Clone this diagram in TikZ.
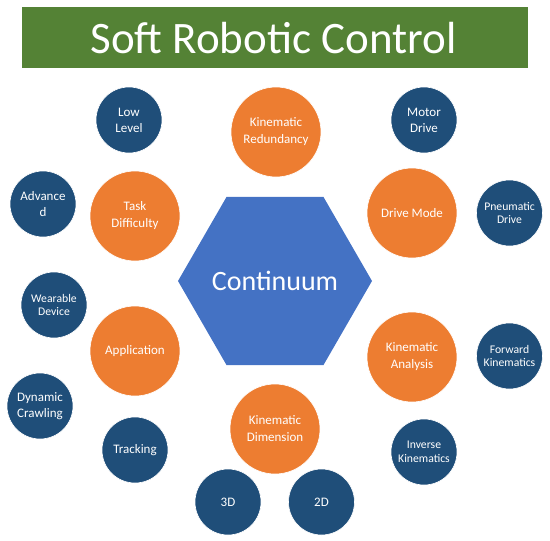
\documentclass[tikz,border=0pt]{standalone}
\usepackage{fontspec}
\setmainfont{Carlito}
\usetikzlibrary{shapes.geometric}
\definecolor{bannergreen}{HTML}{548235}
\definecolor{orangefill}{HTML}{ED7D31}
\definecolor{bluefill}{HTML}{1F4E79}
\definecolor{hexblue}{HTML}{4472C4}
\tikzset{
  mainc/.style={circle, fill=orangefill, draw=white, line width=0.6pt, minimum size=90pt, inner sep=0pt, text=white, align=center, font=\fontsize{13}{17}\selectfont},
  subc/.style={circle, fill=bluefill, draw=white, line width=0.6pt, minimum size=66pt, inner sep=0pt, text=white, align=center, font=\fontsize{13}{16}\selectfont},
  subs/.style={subc, font=\fontsize{11.7}{13.8}\selectfont},
}
\begin{document}
\begin{tikzpicture}[x=1pt,y=-1pt]
\useasboundingbox (0,0) rectangle (550,541);
\node[fill=bannergreen, minimum width=506pt, minimum height=61pt, inner sep=0pt] (title) at (275,37.5) {};
\node[text=white, font=\fontsize{45}{54}\selectfont] (titletext) at (273.5,38) {Soft Robotic Control};
\node[regular polygon, regular polygon sides=6, minimum size=194pt, inner sep=0pt, fill=hexblue] (hex) at (275,281) {};
\node[text=white, font=\fontsize{28}{34}\selectfont] (hextext) at (275,281) {Continuum};
% orange
\node[mainc] (red) at (276,132) {Kinematic\\Redundancy};
\node[mainc] (task) at (135,216) {Task\\Difficulty};
\node[mainc] (drive) at (412,213) {Drive Mode};
\node[mainc] (app) at (135,351) {Application};
\node[mainc] (ana) at (412,357) {Kinematic\\Analysis};
\node[mainc] (dim) at (275,429) {Kinematic\\Dimension};
% blue
\node[subc] (low) at (129,120) {Low\\Level};
\node[subc] (adv) at (43,204) {Advance\\d};
\node[subc] (motor) at (424,120) {Motor\\Drive};
\node[subs] (pneu) at (509.5,213) {Pneumatic\\Drive};
\node[subs] (wear) at (54,305) {Wearable\\Device};
\node[subc] (dyn) at (40,406) {Dynamic\\Crawling};
\node[subc] (track) at (135,450) {Tracking};
\node[subs] (fwd) at (509.5,356) {Forward\\Kinematics};
\node[subs] (inv) at (424,452) {Inverse\\Kinematics};
\node[subc] (3d) at (228,502) {3D};
\node[subc] (2d) at (321.5,502) {2D};
\end{tikzpicture}
\end{document}
